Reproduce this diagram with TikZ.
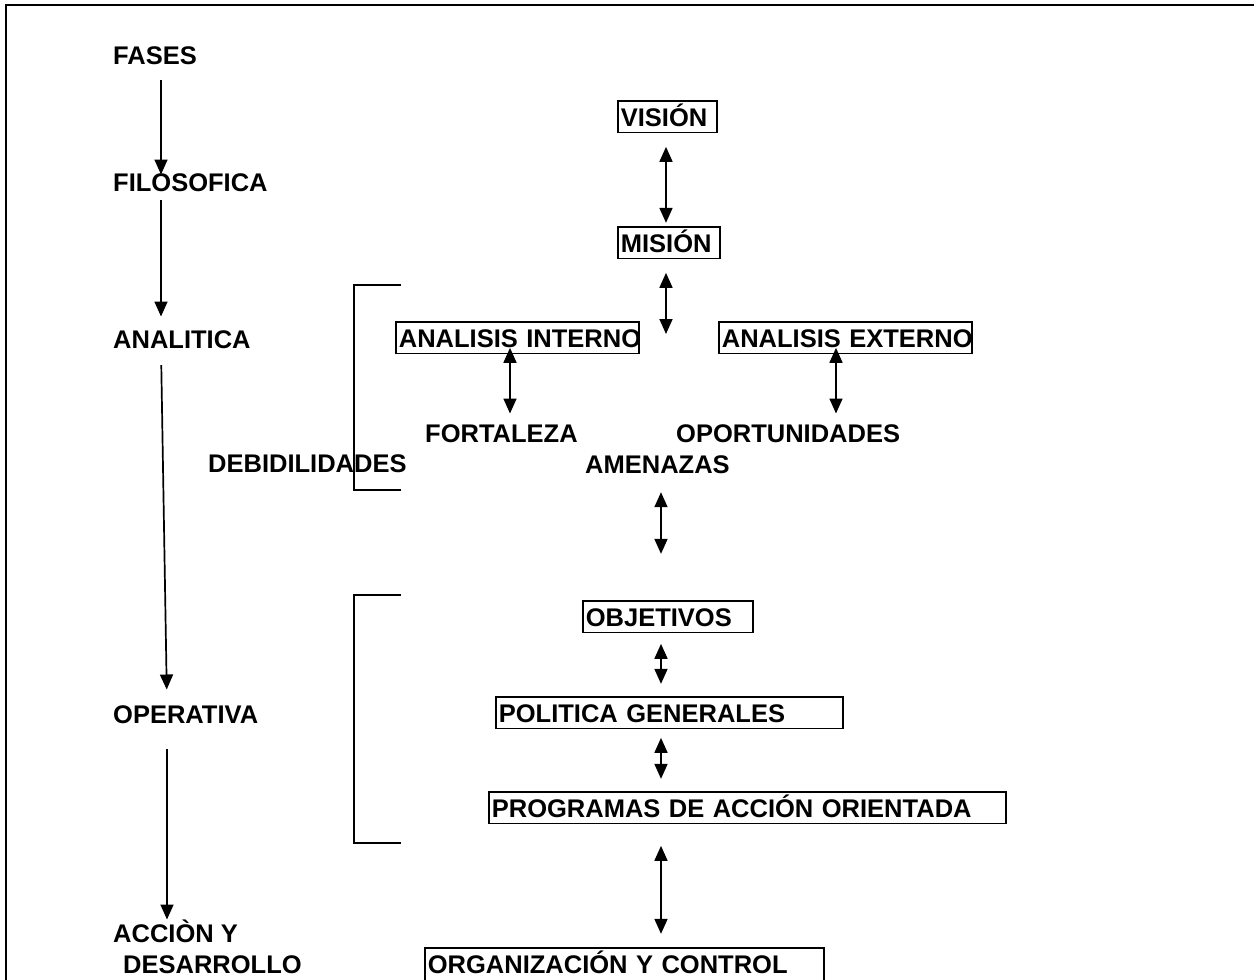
\documentclass[tikz,border=0pt]{standalone}
\usepackage{fontspec}
\setmainfont{Liberation Sans}
\usepackage{tikz}
\usetikzlibrary{arrows.meta,positioning}
\definecolor{ink}{RGB}{0,0,0}
\tikzset{
  txt/.style={anchor=base west,inner sep=0pt,text height=18.3pt,text depth=0pt,
    font=\fontsize{25.5}{30}\selectfont\bfseries,text=ink},
  blk/.style={txt,draw=ink,line width=1.7pt,inner xsep=3pt,inner ysep=6.5pt,
    text width=#1,align=left},
  arr/.style={-{Triangle[length=15pt,width=13pt]},line width=1.7pt,ink},
  dbl/.style={{Triangle[length=15pt,width=13pt]}-{Triangle[length=15pt,width=13pt]},
    line width=1.7pt,ink},
  brk/.style={line width=1.8pt,ink},
}

\begin{document}
\begin{tikzpicture}[x=1pt,y=-1pt]
\useasboundingbox (0,0) rectangle (1254,980);
% page frame
\draw[line width=2.4pt,ink] (6,980) -- (6,5) -- (1254,5);

% phases
\node[txt] (fases) at (113,64) {FASES};
\node[txt] (filo) at (113,191) {FILOSOFICA};
\node[txt] (anali) at (113,348) {ANALITICA};
\node[txt] (oper) at (113,723) {OPERATIVA};
\node[txt] (accion) at (113,942) {ACCIÒN Y};
\node[txt] (desa) at (123,973) {DESARROLLO};
\draw[arr,shorten <=16pt,shorten >=-2pt] ([xshift=48pt]fases.south west) -- ([xshift=48pt]filo.north west);
\draw[arr,shorten <=9pt,shorten >=13pt] ([xshift=48pt]filo.south west) -- ([xshift=48pt]anali.north west);
\draw[arr,shorten <=17pt,shorten >=15pt] ([xshift=48pt]anali.south west) -- ([xshift=54pt]oper.north west);
\draw[arr,shorten <=26pt,shorten >=4pt] ([xshift=54pt]oper.south west) -- ([xshift=54pt]accion.north west);

% right column
\node[blk=93pt] (vision) at (617,126) {VISIÓN};
\node[blk=96pt] (mision) at (617,252) {MISIÓN};
\node[blk=237pt] (intern) at (395,347) {\mbox{ANALISIS INTERNO}};
\node[blk=247pt] (extern) at (718,347) {\mbox{ANALISIS EXTERNO}};
\node[txt] (fort) at (425,442) {FORTALEZA};
\node[txt] (opor) at (676,442) {OPORTUNIDADES};
\node[txt] (debil) at (208,472) {DEBIDILIDADES};
\node[txt] (amen) at (585,473) {AMENAZAS};
\node[blk=164pt] (obj) at (582,626) {OBJETIVOS};
\node[blk=341pt] (pol) at (495,722) {POLITICA GENERALES};
\node[blk=511pt] (prog) at (488,817) {\mbox{PROGRAMAS DE ACCIÓN ORIENTADA}};
\node[blk=393pt,text depth=10pt] (org) at (424,973) {ORGANIZACIÓN Y CONTROL};
\coordinate (mid) at (666,334);

\draw[dbl,shorten <=13.5pt,shorten >=3.5pt] ([xshift=49pt]vision.south west) -- ([xshift=49pt]mision.north west);
\draw[dbl,shorten <=13.5pt] ([xshift=49pt]mision.south west) -- (mid);
\draw[dbl,shorten <=-6.5pt,shorten >=10pt] ([xshift=115pt]intern.south west) -- ([xshift=85pt]fort.north west);
\draw[dbl,shorten <=-6.5pt,shorten >=10pt] ([xshift=118pt]extern.south west) -- ([xshift=160pt]opor.north west);
\draw[dbl,shorten <=19pt,shorten >=46.5pt] ([xshift=76pt]amen.south west) -- ([xshift=79pt]obj.north west);
\draw[dbl,shorten <=10.5pt,shorten >=12.5pt] ([xshift=79pt]obj.south west) -- ([xshift=166pt]pol.north west);
\draw[dbl,shorten <=8.5pt,shorten >=12.5pt] ([xshift=166pt]pol.south west) -- ([xshift=173pt]prog.north west);
\draw[dbl,shorten <=21.5pt,shorten >=13.5pt] ([xshift=173pt]prog.south west) -- ([xshift=237pt]org.north west);

% brackets
\draw[brk] (401,285) -- (354,285) -- (354,490) -- (401,490);
\draw[brk] (401,595) -- (354,595) -- (354,843) -- (401,843);
\end{tikzpicture}
\end{document}
